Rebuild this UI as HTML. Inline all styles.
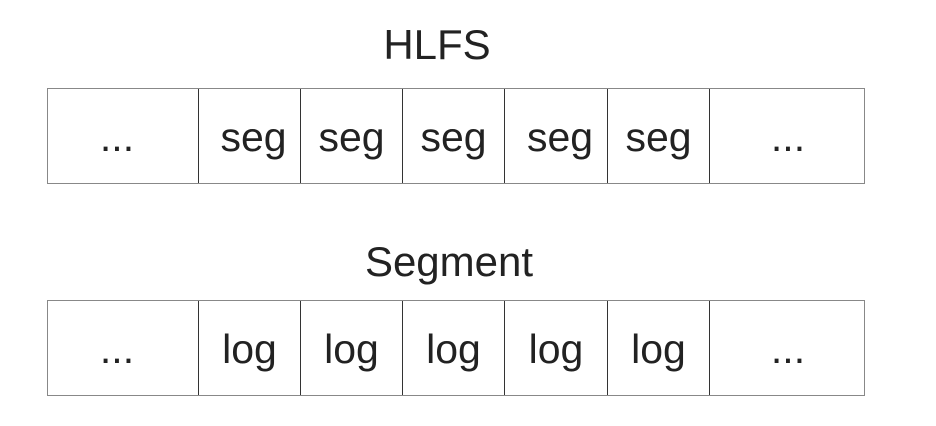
<!DOCTYPE html>
<html><head><style>
body{margin:0;width:936px;height:426px;background:#fff;overflow:hidden;position:relative;font-family:"Liberation Sans",sans-serif;color:#222}
.t{position:absolute;font-size:42px;text-align:center;width:300px;line-height:50px}
.row{position:absolute;left:47px;width:818px;height:96px;border:1.5px solid #888;box-sizing:border-box}
.c{position:absolute;top:0;height:100%;border-left:1.5px solid #333;box-sizing:border-box;display:flex;align-items:center;justify-content:center;font-size:41px;padding-top:2px}
</style></head><body>
<div class="t" style="left:287px;top:20px">HLFS</div>
<div class="row" style="top:88px">
<div class="c" style="left:0;width:150px;border:none;padding-right:12px">...</div>
<div class="c" style="left:150px;width:102px;padding-left:8px">seg</div>
<div class="c" style="left:252px;width:102px">seg</div>
<div class="c" style="left:354px;width:102px">seg</div>
<div class="c" style="left:456px;width:103px;padding-left:8px">seg</div>
<div class="c" style="left:559px;width:102px">seg</div>
<div class="c" style="left:661px;width:157px">...</div>
</div>
<div class="t" style="left:299px;top:237px">Segment</div>
<div class="row" style="top:300px">
<div class="c" style="left:0;width:150px;border:none;padding-right:12px">...</div>
<div class="c" style="left:150px;width:102px;padding-left:0">log</div>
<div class="c" style="left:252px;width:102px">log</div>
<div class="c" style="left:354px;width:102px">log</div>
<div class="c" style="left:456px;width:103px;padding-left:0">log</div>
<div class="c" style="left:559px;width:102px">log</div>
<div class="c" style="left:661px;width:157px">...</div>
</div>
</body></html>
